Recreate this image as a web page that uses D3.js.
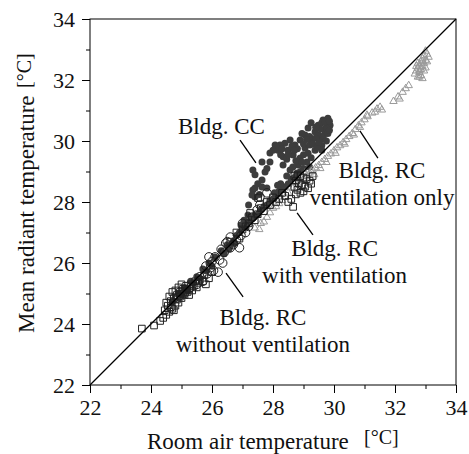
<!DOCTYPE html>
<html>
<head>
<meta charset="utf-8">
<script src="https://cdn.jsdelivr.net/npm/d3@7"></script>
<style>
  html, body { margin: 0; padding: 0; background: #fff; }
  svg { display: block; font-family: "Liberation Serif", "Times New Roman", serif; }
</style>
</head>
<body>
<svg id="chart" width="469" height="454"></svg>
<script>
// ---------- data (room air temperature, mean radiant temperature) ----------
const majorTicks = [22, 24, 26, 28, 30, 32, 34];
const minorTicks = [23, 25, 27, 29, 31, 33];

// Bldg. CC (dark filled dots)
const bldgCC = [
  [29.64,30.69],[29.80,30.75],[29.87,30.52],[29.48,30.52],[29.70,30.30],[29.38,30.30],[29.74,30.43],
  [29.15,30.43],[29.05,30.20],[29.28,30.03],[29.54,30.03],[28.89,30.03],[28.72,29.87],[29.05,29.77],
  [29.38,29.70],[28.56,30.03],[28.39,29.93],[28.23,29.87],[28.16,29.70],[28.49,29.70],[27.90,29.61],
  [28.33,29.48],[28.66,29.54],[28.89,29.44],[28.82,29.21],[29.11,29.31],[28.33,29.21],[28.56,29.05],
  [29.21,29.87],[28.07,29.87],[28.62,29.84],[29.60,29.85],[29.50,30.20],[29.25,30.60],[28.95,30.25],
  [29.60,30.60],[29.70,30.62],[29.85,30.65],[29.55,30.40],[29.40,30.45],[29.65,30.15],[29.80,30.25],
  [29.20,30.15],[29.10,30.05],[29.40,30.10],[29.30,29.90],[29.45,29.80],[29.00,29.90],[28.80,29.75],
  [29.15,29.60],[29.00,29.55],[28.75,29.35],[28.95,29.30],[29.25,29.45],[29.20,29.15],[28.65,29.15],
  [28.45,29.40],[28.50,29.55],[28.25,29.55],[28.10,29.80],[28.00,29.70],[28.30,29.75],[28.70,29.70],
  [29.60,29.70],[29.75,30.00],[29.85,30.35],[29.50,29.95],
  [27.34,29.05],[27.41,28.89],[27.34,28.39],[27.41,28.16],[27.64,29.31],[27.64,28.72],[27.64,28.49],
  [27.90,29.31],[27.74,28.98],[27.41,28.46],[27.50,28.60],[27.55,28.25],[27.80,29.10],
  [24.90,25.00],[25.10,25.20],[25.30,25.40],[25.50,25.55],[25.70,25.80],[25.90,26.00],[26.10,26.20],
  [26.30,26.40],[26.50,26.60],[26.60,26.55],[26.80,26.90],[26.90,27.00],[27.00,27.15],[27.10,27.20],
  [27.20,27.35],[27.30,27.45],[27.40,27.55],[27.50,27.60],[27.60,27.75],[27.70,27.85],[27.80,27.90],
  [27.90,28.05],[28.00,28.10],[28.10,28.20],[28.20,28.35],[28.30,28.40],[28.40,28.50],[28.50,28.60],
  [28.60,28.75],[28.70,28.80],[28.80,28.95],[28.90,29.00],[29.00,29.10],[27.18,27.57],[27.31,28.23],
  [27.80,28.46],[27.20,27.90],[26.40,26.30],[26.70,26.70],[26.00,25.90],[25.60,25.50],[25.20,25.10],
  [27.05,27.40],[26.95,27.25],[28.05,28.30],[28.25,28.60],[28.45,28.85],[28.15,28.55],
  [26.55,26.45],[26.75,26.65],[25.80,25.75],[25.40,25.35],[24.70,24.75],[25.00,24.95]
];

// Bldg. RC ventilation only (grey open triangles)
const rcVentOnly = [
  [33.00,32.95],[33.05,32.85],[32.95,32.80],[33.10,32.75],[32.90,32.70],[33.00,32.65],[32.85,32.60],
  [32.95,32.55],[32.80,32.50],[32.90,32.45],[32.75,32.40],[32.85,32.35],[32.70,32.30],[32.80,32.25],
  [32.65,32.20],[32.85,32.15],[32.75,32.10],[32.90,32.05],[32.80,32.30],[32.90,32.60],[33.00,32.40],
  [32.70,32.45],[32.95,32.30],[33.05,32.60],[32.80,32.10],[32.75,32.55],
  [31.95,31.30],[32.10,31.45],[32.15,31.38],[32.25,31.60],[32.35,31.72],[32.45,31.82],
  [31.51,31.11],[31.57,31.02],[31.41,31.05],[31.34,30.95],[31.25,30.92],[31.08,30.85],
  [29.20,28.95],[29.30,29.05],[29.40,29.12],[29.50,29.20],[29.60,29.30],[29.70,29.40],[29.80,29.50],
  [29.90,29.58],[30.00,29.68],[30.10,29.78],[30.20,29.85],[30.30,29.95],[30.40,30.05],[30.50,30.15],
  [30.60,30.25],[30.70,30.38],[30.80,30.50],[30.90,30.60],[31.00,30.70],[29.35,28.90],[29.55,29.10],
  [29.75,29.30],[30.05,29.60],[30.35,29.90],[30.65,30.20],[30.85,30.45],[31.10,30.80],
  [27.40,27.15],[27.55,27.10],[27.60,27.30],[27.80,27.50],[27.90,27.65],[28.00,27.80],[28.10,27.85],
  [28.30,28.05],[28.40,28.15],[28.50,28.30],[28.65,28.45],[28.80,28.60],[28.90,28.70],[29.00,28.75],
  [29.10,28.85],[28.20,27.95],[27.70,27.35],[29.25,29.00],[29.05,28.95]
];

// Bldg. RC with ventilation (open squares)
const rcWithVent = [
  [23.70,23.85],[24.10,23.95],[24.30,24.10],[24.40,24.20],[24.50,24.30],[24.45,24.45],[24.60,24.40],
  [24.55,24.60],[24.70,24.50],[24.65,24.75],[24.75,24.85],[24.80,24.60],[24.85,24.95],[24.90,24.70],
  [24.95,25.05],[25.00,24.85],[25.05,25.15],[25.10,24.95],[25.15,25.25],[25.20,25.05],[25.25,25.15],
  [25.30,25.30],[25.35,25.10],[25.40,25.25],[25.45,25.40],[25.50,25.20],[25.55,25.35],[25.60,25.45],
  [24.60,24.90],[24.70,25.05],[24.80,25.10],[24.90,25.20],[25.00,25.30],[24.50,24.70],
  [24.65,24.55],[24.85,24.80],[25.05,25.00],[25.25,24.95],[25.15,25.10],[24.75,24.45],[24.95,24.90],
  [25.70,25.40],[25.80,25.30],[25.90,25.50],[25.75,25.60],[26.00,25.70],
  [28.70,28.85],[28.80,28.90],[28.90,28.85],[29.00,28.80],[29.10,28.75],[29.20,28.70],[28.75,28.70],
  [28.85,28.60],[28.95,28.55],[29.05,28.50],[29.15,28.45],[28.70,28.50],[28.80,28.40],[28.90,28.30],
  [29.00,28.35],[28.75,28.25],[29.25,28.60],[29.30,28.85],[28.66,27.84],[28.60,28.10],[28.50,28.00],
  [28.40,28.20],[28.30,28.30],[28.20,28.10],[28.10,28.00],[28.00,28.15],[27.90,27.90],[27.80,28.00],
  [27.70,27.70],[27.60,27.80],[27.50,27.60],[27.40,27.40],[27.30,27.50],[27.20,27.30],[27.10,27.20],
  [27.00,27.10],[27.51,28.13],[27.25,27.64],[26.90,26.80],[26.80,27.00],[26.60,26.70]
];

// Bldg. RC without ventilation (open circles)
const rcWithoutVent = [
  [25.50,25.30],[25.60,25.55],[25.70,25.40],[25.80,25.90],[25.85,25.65],[25.95,25.85],[26.00,26.05],
  [26.10,26.20],[26.20,25.70],[26.25,26.10],[26.30,26.45],[26.40,26.35],[26.45,26.65],[26.50,26.70],
  [26.60,26.50],[26.60,26.85],[26.70,26.60],[26.80,26.75],[26.90,26.50],[26.95,26.90],[27.00,27.30],
  [27.10,27.00],[27.20,27.20],[27.34,27.51],[27.48,27.74],[27.57,27.90],[27.57,28.16],[27.80,28.30],
  [25.30,25.20],[25.10,25.00],[24.90,24.90],[26.05,25.75],[25.90,26.20],[26.35,26.00]
];

// annotations: text lines and anchor / leader positions in data units
const annotations = [
  { lines: ["Bldg. CC"], at: [26.31, 30.23], leader: [[26.92, 30.03], [27.44, 29.28]] },
  { lines: ["Bldg. RC", "ventilation only"], at: [31.57, 28.79], leader: [[30.85, 30.33], [31.44, 29.44]] },
  { lines: ["Bldg. RC", "with ventilation"], at: [30.02, 26.23], leader: [[28.79, 27.64], [29.31, 26.92]] },
  { lines: ["Bldg. RC", "without ventilation"], at: [27.67, 23.97], leader: [[26.46, 25.67], [27.02, 24.89]] }
];

// ---------- drawing ----------
const svg = d3.select("#chart");
const m = { left: 90, top: 19, right: 456, bottom: 385 };
const x = d3.scaleLinear().domain([22, 34]).range([m.left, m.right]);
const y = d3.scaleLinear().domain([22, 34]).range([m.bottom, m.top]);

// frame
svg.append("rect")
  .attr("x", m.left).attr("y", m.top)
  .attr("width", m.right - m.left).attr("height", m.bottom - m.top)
  .attr("fill", "none").attr("stroke", "#000").attr("stroke-width", 1);

// axes
const xAxis = d3.axisBottom(x).tickValues(majorTicks).tickSize(8).tickPadding(6).tickFormat(d3.format("d"));
const xMinor = d3.axisBottom(x).tickValues(minorTicks).tickSize(4).tickFormat("");
const yAxis = d3.axisLeft(y).tickValues(majorTicks).tickSize(8).tickPadding(7).tickFormat(d3.format("d"));
const yMinor = d3.axisLeft(y).tickValues(minorTicks).tickSize(4).tickFormat("");

function styleAxis(g) {
  g.select(".domain").remove();
  g.selectAll("line").attr("stroke", "#000");
  g.selectAll("text").attr("fill", "#111").style("font-size", "22px")
    .style("font-family", '"Liberation Serif", "Times New Roman", serif');
}
svg.append("g").attr("transform", `translate(0,${m.bottom})`).call(xAxis).call(styleAxis);
svg.append("g").attr("transform", `translate(0,${m.bottom})`).call(xMinor).call(styleAxis);
svg.append("g").attr("transform", `translate(${m.left},0)`).call(yAxis).call(styleAxis);
svg.append("g").attr("transform", `translate(${m.left},0)`).call(yMinor).call(styleAxis);

// points
const plot = svg.append("g");
plot.selectAll(".cc").data(bldgCC).enter().append("circle")
  .attr("cx", d => x(d[0])).attr("cy", d => y(d[1])).attr("r", 3.5)
  .attr("fill", "#3d3d3d");

const tri = d3.symbol().type(d3.symbolTriangle).size(24);
plot.selectAll(".tri").data(rcVentOnly).enter().append("path")
  .attr("d", tri).attr("transform", d => `translate(${x(d[0])},${y(d[1])})`)
  .attr("fill", "none").attr("stroke", "#9a9a9a").attr("stroke-width", 1);

const sq = d3.symbol().type(d3.symbolSquare).size(44);
plot.selectAll(".sq").data(rcWithVent).enter().append("path")
  .attr("d", sq).attr("transform", d => `translate(${x(d[0])},${y(d[1])})`)
  .attr("fill", "none").attr("stroke", "#222").attr("stroke-width", 1);

plot.selectAll(".oc").data(rcWithoutVent).enter().append("circle")
  .attr("cx", d => x(d[0])).attr("cy", d => y(d[1])).attr("r", 4.3)
  .attr("fill", "none").attr("stroke", "#222").attr("stroke-width", 1);

// 1:1 line
svg.append("line")
  .attr("x1", x(22)).attr("y1", y(22)).attr("x2", x(34)).attr("y2", y(34))
  .attr("stroke", "#000").attr("stroke-width", 1.2);

// annotations
annotations.forEach(a => {
  svg.append("line")
    .attr("x1", x(a.leader[0][0])).attr("y1", y(a.leader[0][1]))
    .attr("x2", x(a.leader[1][0])).attr("y2", y(a.leader[1][1]))
    .attr("stroke", "#000").attr("stroke-width", 1.3);
  const t = svg.append("text")
    .attr("x", x(a.at[0])).attr("y", y(a.at[1]))
    .attr("text-anchor", "middle").attr("fill", "#111").style("font-size", "23px");
  a.lines.forEach((l, i) => {
    t.append("tspan").attr("x", x(a.at[0])).attr("dy", i === 0 ? 0 : 27).text(l);
  });
});

// axis titles
svg.append("text").attr("x", 147).attr("y", 449).attr("fill", "#111")
  .style("font-size", "23px").text("Room air temperature");
svg.append("text").attr("x", 364).attr("y", 444).attr("fill", "#111")
  .style("font-size", "20px").text("[°C]");

svg.append("text").attr("transform", "translate(34,333) rotate(-90)").attr("fill", "#111")
  .style("font-size", "23px").text("Mean radiant temperature");
svg.append("text").attr("transform", "translate(31,88) rotate(-90)").attr("fill", "#111")
  .style("font-size", "20px").text("[°C]");
</script>
</body>
</html>
